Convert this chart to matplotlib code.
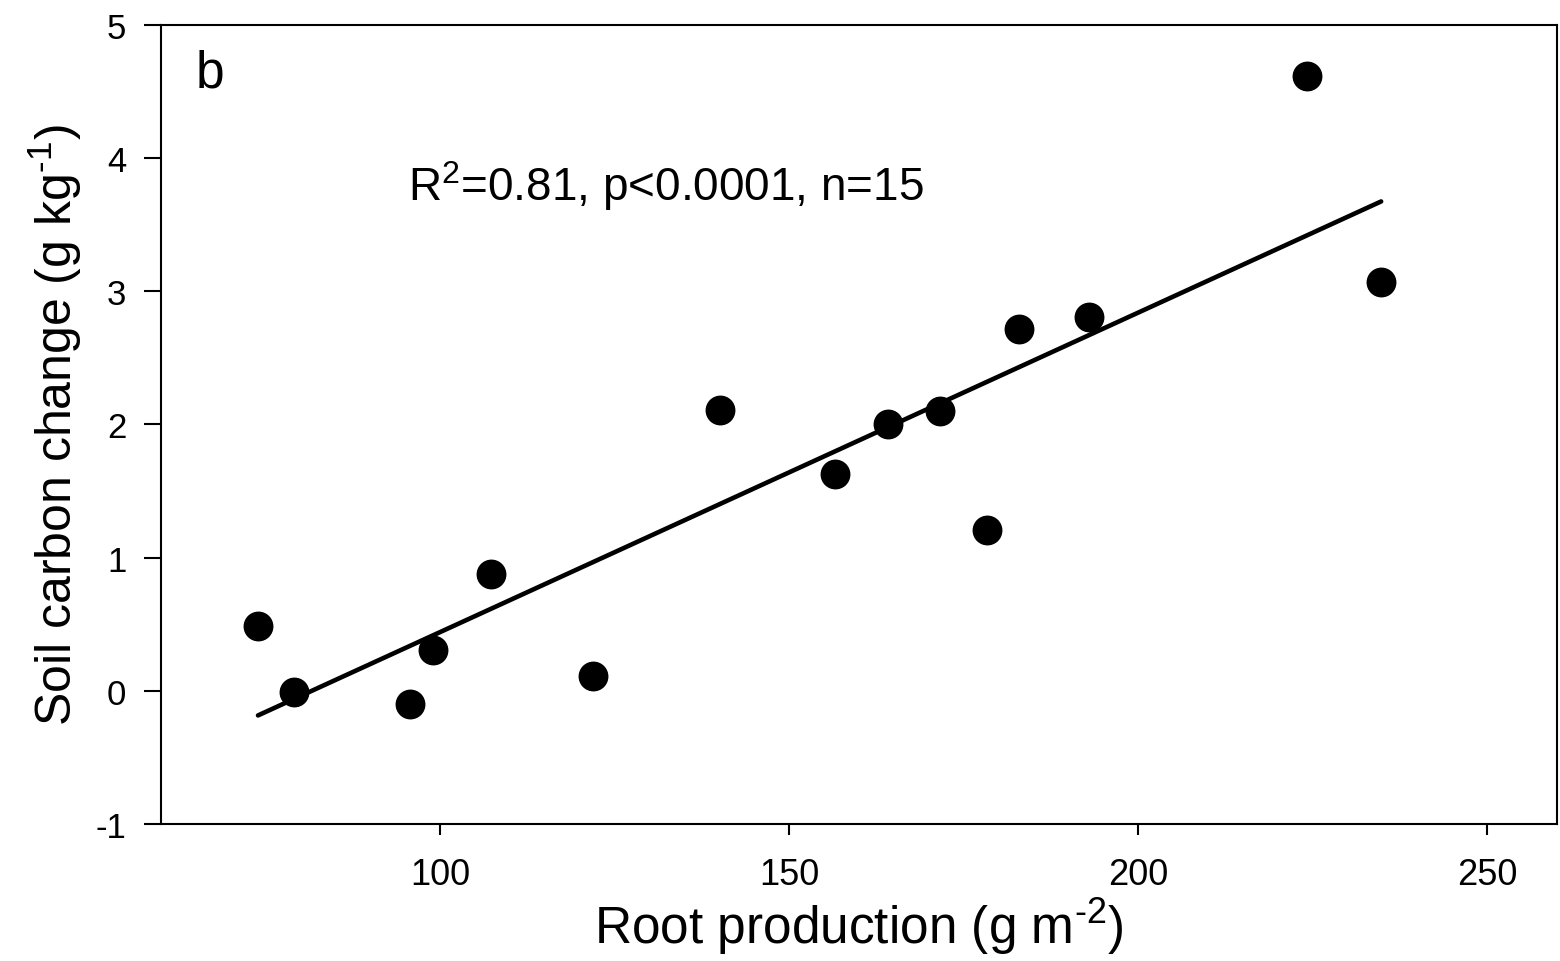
import matplotlib.pyplot as plt
import numpy as np

plt.rcParams['font.family'] = ['Liberation Sans', 'DejaVu Sans']
plt.rcParams['axes.unicode_minus'] = False
plt.rcParams['mathtext.fontset'] = 'custom'
plt.rcParams['mathtext.rm'] = 'Liberation Sans'
plt.rcParams['mathtext.it'] = 'Liberation Sans:italic'

# data
root_prod = [73.9, 79.1, 95.7, 99.0, 107.3, 121.9, 140.1, 156.6,
             164.1, 171.6, 178.3, 182.9, 192.9, 224.2, 234.8]
soil_c = [0.49, -0.01, -0.10, 0.31, 0.88, 0.11, 2.11, 1.63,
          2.00, 2.10, 1.21, 2.72, 2.81, 4.62, 3.07]
xticks = [100, 150, 200, 250]
yticks = [-1, 0, 1, 2, 3, 4, 5]

x = np.array(root_prod)
y = np.array(soil_c)

# linear regression line
slope, intercept = np.polyfit(x, y, 1)
xfit = np.array([x.min(), x.max()])
yfit = slope * xfit + intercept

fig = plt.figure(figsize=(15.6, 9.62), dpi=100)
ax = fig.add_axes([0.1032, 0.1424, 0.8949, 0.8306])

ax.plot(xfit, yfit, color='black', lw=3.3, solid_capstyle='round', zorder=2)
ax.scatter(x, y, s=420, color='black', zorder=3)

ax.set_xlim(60, 260)
ax.set_ylim(-1, 5)
ax.set_xticks(xticks)
ax.set_yticks(yticks)
ax.set_yticklabels([str(v) for v in yticks])

for s in ax.spines.values():
    s.set_linewidth(1.5)

ax.tick_params(axis='x', direction='out', length=8, width=1.5, pad=16, labelsize=26)
ax.tick_params(axis='y', direction='out', length=12, width=1.5, pad=13, labelsize=25)

ax.set_xlabel(r'Root production (g m$^{\text{-2}}$)', fontsize=37, labelpad=2)
ax.set_ylabel(r'Soil carbon change (g kg$^{\text{-1}}$)', fontsize=36, labelpad=8)

ax.text(0.025, 0.94, 'b', transform=ax.transAxes, fontsize=37, ha='left', va='center')
ax.text(0.177, 0.80, r'R$^2$=0.81, p<0.0001, n=15', transform=ax.transAxes,
        fontsize=33, ha='left', va='center')

plt.savefig('out.png', dpi=100)
